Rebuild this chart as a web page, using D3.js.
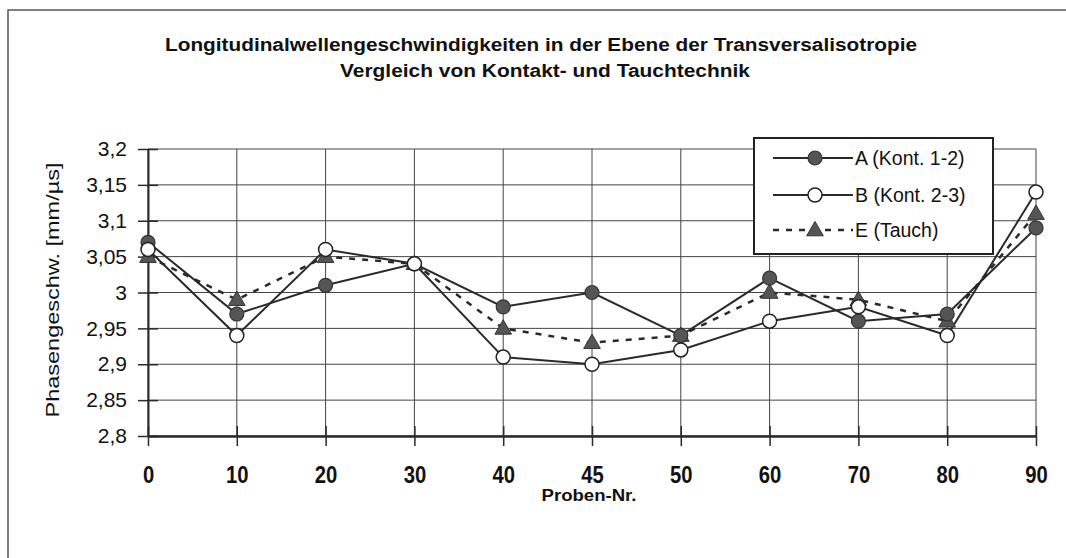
<!DOCTYPE html>
<html>
<head>
<meta charset="utf-8">
<script src="https://cdn.jsdelivr.net/npm/d3@7"></script>
<style>
  body { margin: 0; background: #fff; }
  svg { display: block; }
</style>
</head>
<body>
<div id="chart"></div>
<script>
var categories = ["0", "10", "20", "30", "40", "45", "50", "60", "70", "80", "90"];
var seriesA = [3.07, 2.97, 3.01, 3.04, 2.98, 3.00, 2.94, 3.02, 2.96, 2.97, 3.09];
var seriesB = [3.06, 2.94, 3.06, 3.04, 2.91, 2.90, 2.92, 2.96, 2.98, 2.94, 3.14];
var seriesE = [3.05, 2.99, 3.05, 3.04, 2.95, 2.93, 2.94, 3.00, 2.99, 2.96, 3.11];
var yTicks = [2.8, 2.85, 2.9, 2.95, 3.0, 3.05, 3.1, 3.15, 3.2];
var seriesNames = ["A (Kont. 1-2)", "B (Kont. 2-3)", "E (Tauch)"];

var width = 1066, height = 558;
var plotLeft = 148, plotRight = 1036, plotTop = 149, plotBottom = 436;
var ink = "#2a2a2a";

var svg = d3.select("#chart").append("svg")
  .attr("width", width)
  .attr("height", height);

// outer frame (only left and top visible in the picture)
svg.append("rect")
  .attr("x", 8).attr("y", 10)
  .attr("width", 1100).attr("height", 600)
  .attr("fill", "none").attr("stroke", "#555").attr("stroke-width", 1.5);

var x = d3.scalePoint().domain(categories).range([plotLeft, plotRight]);
var y = d3.scaleLinear().domain([2.8, 3.2]).range([plotBottom, plotTop]);

var fmt = function (d) { return d3.format("~g")(+d.toFixed(2)).replace(".", ","); };

// grid
svg.append("g").selectAll("line")
  .data(yTicks).enter().append("line")
  .attr("x1", plotLeft).attr("x2", plotRight)
  .attr("y1", function (d) { return y(d); })
  .attr("y2", function (d) { return y(d); })
  .attr("stroke", "#444").attr("stroke-width", 1);

svg.append("g").selectAll("line")
  .data(categories).enter().append("line")
  .attr("x1", function (d) { return x(d); })
  .attr("x2", function (d) { return x(d); })
  .attr("y1", plotTop).attr("y2", plotBottom)
  .attr("stroke", "#444").attr("stroke-width", 1);

// y axis
var yAxis = svg.append("g")
  .attr("transform", "translate(" + plotLeft + ",0)")
  .call(d3.axisLeft(y).tickValues(yTicks).tickFormat(fmt).tickSizeInner(10).tickSizeOuter(0).tickPadding(12));
yAxis.select(".domain").attr("stroke", ink).attr("stroke-width", 2);
yAxis.selectAll(".tick line").attr("x2", 10).attr("x1", -10).attr("stroke", ink).attr("stroke-width", 1.5);
yAxis.selectAll("text")
  .attr("x", -21)
  .style("font-family", "Liberation Sans, Arial, sans-serif")
  .style("font-size", "21px").attr("fill", "#111");

// x axis
var xAxis = svg.append("g")
  .attr("transform", "translate(0," + plotBottom + ")")
  .call(d3.axisBottom(x).tickSizeInner(10).tickSizeOuter(0).tickPadding(20));
xAxis.select(".domain").attr("stroke", ink).attr("stroke-width", 2.5);
xAxis.selectAll(".tick line").attr("y1", -10).attr("y2", 10).attr("stroke", ink).attr("stroke-width", 1.5);
xAxis.selectAll("text")
  .attr("y", 31)
  .attr("transform", "scale(0.88,1)")
  .style("font-family", "Liberation Sans, Arial, sans-serif")
  .style("font-weight", "bold")
  .style("font-size", "23px").attr("fill", "#111");

// titles
var title = svg.append("text")
  .attr("text-anchor", "middle")
  .style("font-family", "Liberation Sans, Arial, sans-serif")
  .style("font-weight", "bold").style("font-size", "18px").attr("fill", "#111");
title.append("tspan").attr("x", 541).attr("y", 51)
  .attr("textLength", 752).attr("lengthAdjust", "spacingAndGlyphs")
  .text("Longitudinalwellengeschwindigkeiten in der Ebene der Transversalisotropie");
title.append("tspan").attr("x", 545).attr("y", 77)
  .attr("textLength", 410).attr("lengthAdjust", "spacingAndGlyphs")
  .text("Vergleich von Kontakt- und Tauchtechnik");

svg.append("text")
  .attr("x", 589).attr("y", 501)
  .attr("text-anchor", "middle")
  .attr("textLength", 95).attr("lengthAdjust", "spacingAndGlyphs")
  .style("font-family", "Liberation Sans, Arial, sans-serif")
  .style("font-weight", "bold").style("font-size", "16px").attr("fill", "#111")
  .text("Proben-Nr.");

svg.append("text")
  .attr("transform", "translate(59," + 290 + ") rotate(-90)")
  .attr("text-anchor", "middle")
  .attr("textLength", 255).attr("lengthAdjust", "spacingAndGlyphs")
  .style("font-family", "Liberation Sans, Arial, sans-serif")
  .style("font-size", "19px").attr("fill", "#111")
  .text("Phasengeschw. [mm/\u00b5s]");

// series
var series = [
  { name: seriesNames[0], values: seriesA, dash: null, marker: "filled" },
  { name: seriesNames[1], values: seriesB, dash: null, marker: "open" },
  { name: seriesNames[2], values: seriesE, dash: "6,7", marker: "triangle" }
];

var line = d3.line()
  .x(function (d, i) { return x(categories[i]); })
  .y(function (d) { return y(d); });

function drawMarker(g, type) {
  if (type === "filled") {
    g.append("circle").attr("r", 7).attr("fill", "#555").attr("stroke", "#333").attr("stroke-width", 1.2);
  } else if (type === "open") {
    g.append("circle").attr("r", 7).attr("fill", "#fff").attr("stroke", "#222").attr("stroke-width", 1.5);
  } else {
    g.append("path").attr("d", d3.symbol().type(d3.symbolTriangle).size(120))
      .attr("transform", "translate(0,1)")
      .attr("fill", "#555").attr("stroke", "#333").attr("stroke-width", 1);
  }
}

// lines first, E drawn beneath solids
[series[2], series[1], series[0]].forEach(function (s) {
  svg.append("path")
    .datum(s.values)
    .attr("d", line)
    .attr("fill", "none")
    .attr("stroke", ink)
    .attr("stroke-width", s.dash ? 2.5 : 2)
    .attr("stroke-dasharray", s.dash);
});

[series[2], series[0], series[1]].forEach(function (s) {
  svg.append("g").selectAll("g")
    .data(s.values).enter().append("g")
    .attr("transform", function (d, i) { return "translate(" + x(categories[i]) + "," + y(d) + ")"; })
    .each(function () { drawMarker(d3.select(this), s.marker); });
});

// legend
var legend = svg.append("g").attr("transform", "translate(754,138)");
legend.append("rect")
  .attr("width", 239).attr("height", 116)
  .attr("fill", "#fff").attr("stroke", "#222").attr("stroke-width", 2);

var item = legend.selectAll("g.item")
  .data(series).enter().append("g")
  .attr("class", "item")
  .attr("transform", function (d, i) { return "translate(0," + [20, 57, 92][i] + ")"; });

item.append("line")
  .attr("x1", 19).attr("x2", 99)
  .attr("stroke", ink)
  .attr("stroke-width", function (d) { return d.dash ? 2.5 : 2; })
  .attr("stroke-dasharray", function (d) { return d.dash ? "6,7" : null; });

item.append("g")
  .attr("transform", "translate(61,0)")
  .each(function (d) { drawMarker(d3.select(this), d.marker); });

item.append("text")
  .attr("x", 101).attr("y", 7)
  .style("font-family", "Liberation Sans, Arial, sans-serif")
  .style("font-size", "19.5px").attr("fill", "#111")
  .text(function (d) { return d.name; });
</script>
</body>
</html>
